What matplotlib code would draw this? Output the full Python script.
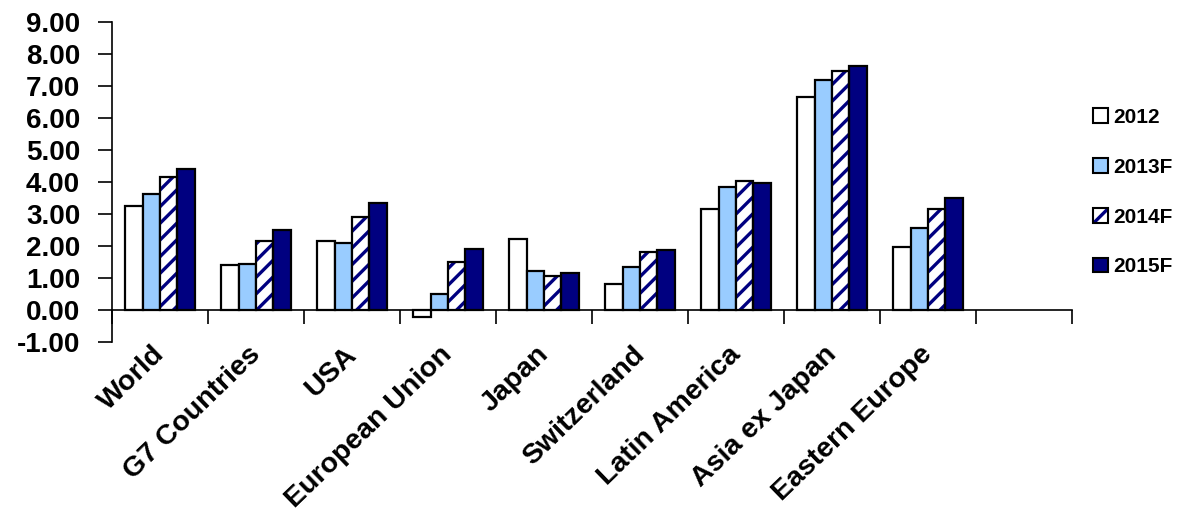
import numpy as np
import matplotlib
matplotlib.use("Agg")
import matplotlib.pyplot as plt
from matplotlib.patches import Patch

# data
regions = ["World", "G7 Countries", "USA", "European Union", "Japan",
           "Switzerland", "Latin America", "Asia ex Japan", "Eastern Europe"]
years = ["2012", "2013F", "2014F", "2015F"]
v2012 = [3.27, 1.43, 2.15, -0.22, 2.24, 0.83, 3.18, 6.67, 1.99]
v2013 = [3.63, 1.46, 2.10, 0.51, 1.22, 1.35, 3.86, 7.19, 2.58]
v2014 = [4.15, 2.15, 2.92, 1.50, 1.06, 1.82, 4.03, 7.48, 3.15]
v2015 = [4.42, 2.52, 3.35, 1.92, 1.15, 1.87, 3.99, 7.63, 3.51]
yticks = [-1, 0, 1, 2, 3, 4, 5, 6, 7, 8, 9]

navy = "#000080"
light = "#99CCFF"

plt.rcParams["font.family"] = ["Liberation Sans", "DejaVu Sans"]
plt.rcParams["font.weight"] = "bold"
plt.rcParams["hatch.linewidth"] = 2.4

fig = plt.figure(figsize=(11.82, 5.23), dpi=100)
ax = fig.add_axes([0.0948, 0.3455, 0.8121, 0.6119])

x = np.arange(len(regions)) + 0.5
w = 0.18
lw = 1.6

ax.bar(x - 1.5 * w, v2012, w, color="white", edgecolor="black", linewidth=lw, zorder=3)
ax.bar(x - 0.5 * w, v2013, w, color=light, edgecolor="black", linewidth=lw, zorder=3)
# hatched bars: navy stripes, then a black outline on top
ax.bar(x + 0.5 * w, v2014, w, color="white", edgecolor=navy, hatch="//", linewidth=0, zorder=3)
ax.bar(x + 0.5 * w, v2014, w, fill=False, edgecolor="black", linewidth=lw, zorder=4)
ax.bar(x + 1.5 * w, v2015, w, color=navy, edgecolor="black", linewidth=lw, zorder=3)

ax.set_xlim(0, 10)
ax.set_ylim(-1, 9)
ax.set_yticks(yticks)
ax.set_yticklabels(["%.2f" % t for t in yticks], fontsize=20, fontweight="bold")
ax.tick_params(axis="y", length=10, width=1.2, pad=13, direction="out")

ax.spines["top"].set_visible(False)
ax.spines["right"].set_visible(False)
ax.spines["left"].set_linewidth(1.2)
ax.spines["bottom"].set_position(("data", 0))
ax.spines["bottom"].set_linewidth(1.2)
ax.set_xticks(np.arange(0, 11))
ax.set_xticklabels([])
ax.tick_params(axis="x", length=10, width=1.2, direction="out")

for xi, name in zip(x, regions):
    ax.text(xi + 0.1, -0.97, name, rotation=44, ha="right", va="top",
            fontsize=20.5, fontweight="bold")

handles = [
    Patch(facecolor="white", edgecolor="black", linewidth=1.5),
    Patch(facecolor=light, edgecolor="black", linewidth=1.5),
    (Patch(facecolor="white", edgecolor=navy, hatch="//", linewidth=0),
     Patch(fill=False, edgecolor="black", linewidth=1.5)),
    Patch(facecolor=navy, edgecolor="black", linewidth=1.5),
]
leg = fig.legend(handles, years, loc="upper left",
                 bbox_to_anchor=(1093 / 1182, 1 - 108 / 523),
                 frameon=False, fontsize=15, handlelength=0.7, handleheight=0.7,
                 handletextpad=0.25, labelspacing=1.48, borderpad=0, borderaxespad=0)
for t in leg.get_texts():
    t.set_fontweight("bold")

fig.savefig("out.png", dpi=100)
